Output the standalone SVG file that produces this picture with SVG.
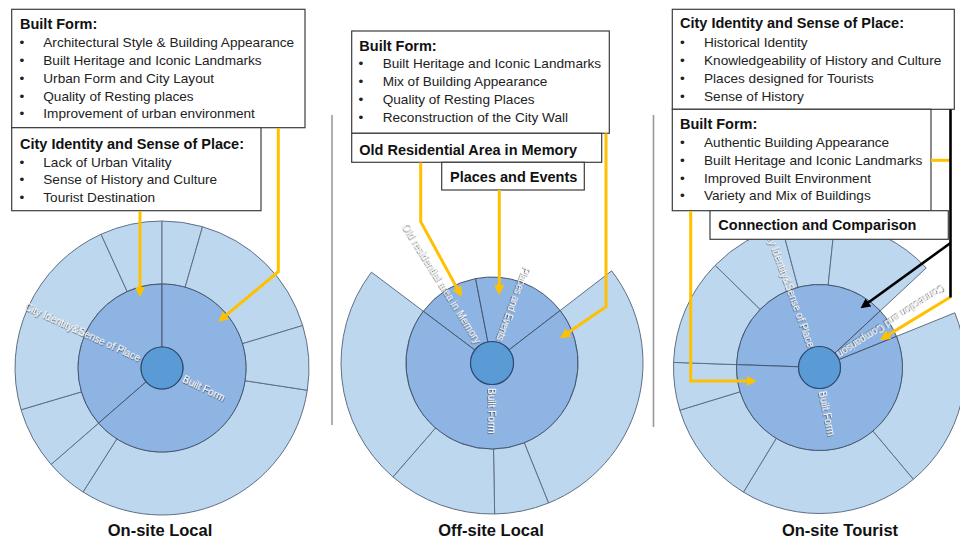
<svg xmlns="http://www.w3.org/2000/svg" width="960" height="542" viewBox="0 0 960 542">
<style>
.outer{fill:#BDD7EE;stroke:#5f6f86;stroke-width:1}
.mid{fill:#8EB4E3;stroke:#46576e;stroke-width:1}
.core{fill:#5B9BD5;stroke:#2c4a73;stroke-width:1.2}
.lbl{font-family:"Liberation Sans",Arial,sans-serif;font-size:10px;fill:#ffffff;filter:url(#sh)}
.box{fill:#ffffff;stroke:#3c3c3c;stroke-width:1.2}
.h{font-family:"Liberation Sans",Arial,sans-serif;font-size:14.5px;font-weight:bold;fill:#111}
.t{font-family:"Liberation Sans",Arial,sans-serif;font-size:13.6px;fill:#222}
.cap{font-family:"Liberation Sans",Arial,sans-serif;font-size:16.5px;font-weight:bold;fill:#111;text-anchor:middle}
.y{fill:none;stroke:#FFC000;stroke-width:3}
.k{fill:none;stroke:#000;stroke-width:2.6}
.sep{stroke:#9a9a9a;stroke-width:1.6}
</style>
<defs>
<filter id="sh" x="-10%" y="-50%" width="120%" height="200%">
<feDropShadow dx="0.7" dy="0.8" stdDeviation="0.45" flood-color="#3a3a3a" flood-opacity="0.9"/>
</filter>
<marker id="ay" viewBox="0 0 10 10" refX="7" refY="5" markerWidth="3.4" markerHeight="3.4" orient="auto" markerUnits="strokeWidth">
<path d="M0,0 L10,5 L0,10 Z" fill="#FFC000"/>
</marker>
<marker id="ak" viewBox="0 0 10 10" refX="7" refY="5" markerWidth="3.8" markerHeight="3.8" orient="auto" markerUnits="strokeWidth">
<path d="M0,0 L10,5 L0,10 Z" fill="#000"/>
</marker>
</defs>
<rect width="960" height="542" fill="#ffffff"/>

<g id="separators">
<line class="sep" x1="332" y1="115" x2="332" y2="425"/>
<line class="sep" x1="653.5" y1="115" x2="653.5" y2="427"/>
</g>

<!-- Chart 1: On-site Local -->
<g id="chart-onsite-local">
<path class="outer" d="M307.31,390.24 A147 147 0 0 1 83.02,491.98 L116.87,438.85 A84 84 0 0 0 245.03,380.71 Z"/>
<path class="outer" d="M83.02,491.98 A147 147 0 0 1 51.06,464.45 L98.61,423.11 A84 84 0 0 0 116.87,438.85 Z"/>
<path class="outer" d="M51.06,464.45 A147 147 0 0 1 21.06,409.75 L81.46,391.86 A84 84 0 0 0 98.61,423.11 Z"/>
<path class="outer" d="M21.06,409.75 A147 147 0 0 1 101.04,234.23 L127.17,291.56 A84 84 0 0 0 81.46,391.86 Z"/>
<path class="outer" d="M101.04,234.23 A147 147 0 0 1 162,221 L162,284 A84 84 0 0 0 127.17,291.56 Z"/>
<path class="outer" d="M162,221 A147 147 0 0 1 202.51,226.69 L185.15,287.25 A84 84 0 0 0 162,284 Z"/>
<path class="outer" d="M202.51,226.69 A147 147 0 0 1 302.72,325.52 L242.41,343.72 A84 84 0 0 0 185.15,287.25 Z"/>
<path class="outer" d="M302.72,325.52 A147 147 0 0 1 307.31,390.24 L245.03,380.71 A84 84 0 0 0 242.41,343.72 Z"/>
<path class="mid" d="M98.61,423.11 A84 84 0 0 1 162,284 L162,347 A21 21 0 0 0 146.15,381.78 Z"/>
<path class="mid" d="M162,284 A84 84 0 1 1 98.61,423.11 L146.15,381.78 A21 21 0 1 0 162,347 Z"/>
<circle class="core" cx="162" cy="368" r="21"/>
<text class="lbl" text-anchor="end" transform="translate(140.2,358.2) rotate(24.6)" dy="0.35em">City Identity&amp;Sense of Place</text>
<text class="lbl" transform="translate(183.5,378) rotate(26)" dy="0.35em">Built Form</text>
</g>

<!-- Chart 2: Off-site Local -->
<g id="chart-offsite-local">
<path class="outer" d="M611.64,270.87 A151 151 0 0 1 548.56,503.01 L524.22,442.74 A86 86 0 0 0 560.14,310.53 Z"/>
<path class="outer" d="M548.56,503.01 A151 151 0 0 1 494.64,513.97 L493.5,448.98 A86 86 0 0 0 524.22,442.74 Z"/>
<path class="outer" d="M494.64,513.97 A151 151 0 0 1 392.93,476.96 L435.58,427.9 A86 86 0 0 0 493.5,448.98 Z"/>
<path class="outer" d="M392.93,476.96 A151 151 0 0 1 371.41,272.13 L423.32,311.25 A86 86 0 0 0 435.58,427.9 Z"/>
<path class="mid" d="M423.32,311.25 A86 86 0 0 1 475.59,278.58 L487.9,341.9 A21.5 21.5 0 0 0 474.83,350.06 Z"/>
<path class="mid" d="M475.59,278.58 A86 86 0 0 1 560.14,310.53 L509.03,349.88 A21.5 21.5 0 0 0 487.9,341.9 Z"/>
<path class="mid" d="M560.14,310.53 A86 86 0 1 1 423.32,311.25 L474.83,350.06 A21.5 21.5 0 1 0 509.03,349.88 Z"/>
<circle class="core" cx="492" cy="363" r="21.5"/>
<text class="lbl" text-anchor="end" textLength="139" transform="translate(478.8,342.2) rotate(58)" dy="0.35em">Old residential area in Memory</text>
<text class="lbl" text-anchor="end" textLength="78" transform="translate(500,340.6) rotate(110.7)" dy="0.35em">Places and Events</text>
<text class="lbl" transform="translate(492.2,388) rotate(89.7)" dy="0.35em">Built Form</text>
</g>

<!-- Chart 3: On-site Tourist -->
<g id="chart-onsite-tourist">
<path class="outer" d="M954.87,312.81 A146 146 0 0 1 913.35,479.34 L872.85,431.08 A83 83 0 0 0 896.46,336.41 Z"/>
<path class="outer" d="M913.35,479.34 A146 146 0 0 1 743.43,492.13 L776.26,438.35 A83 83 0 0 0 872.85,431.08 Z"/>
<path class="outer" d="M743.43,492.13 A146 146 0 0 1 679.88,410.19 L740.13,391.77 A83 83 0 0 0 776.26,438.35 Z"/>
<path class="outer" d="M679.88,410.19 A146 146 0 0 1 673.59,362.4 L736.55,364.6 A83 83 0 0 0 740.13,391.77 Z"/>
<path class="outer" d="M673.59,362.4 A146 146 0 0 1 715.18,265.34 L760.2,309.42 A83 83 0 0 0 736.55,364.6 Z"/>
<path class="outer" d="M715.18,265.34 A146 146 0 0 1 781.72,226.48 L798.02,287.33 A83 83 0 0 0 760.2,309.42 Z"/>
<path class="outer" d="M781.72,226.48 A146 146 0 0 1 834.76,222.3 L828.17,284.96 A83 83 0 0 0 798.02,287.33 Z"/>
<path class="outer" d="M834.76,222.3 A146 146 0 0 1 926.28,267.93 L880.21,310.89 A83 83 0 0 0 828.17,284.96 Z"/>
<path class="mid" d="M736.55,364.6 A83 83 0 0 1 880.21,310.89 L834.86,353.18 A21 21 0 0 0 798.51,366.77 Z"/>
<path class="mid" d="M880.21,310.89 A83 83 0 0 1 896.46,336.41 L838.97,359.63 A21 21 0 0 0 834.86,353.18 Z"/>
<path class="mid" d="M896.46,336.41 A83 83 0 1 1 736.55,364.6 L798.51,366.77 A21 21 0 1 0 838.97,359.63 Z"/>
<circle class="core" cx="819.5" cy="367.5" r="21"/>
<text class="lbl" text-anchor="end" transform="translate(811.8,346.9) rotate(69.8)" dy="0.35em">City Identity&amp;Sense of Place</text>
<text class="lbl" text-anchor="end" transform="translate(838.1,355.7) rotate(147.5)" dy="0.35em">Connection and Comparison</text>
<text class="lbl" transform="translate(822.5,391) rotate(78)" dy="0.35em">Built Form</text>
</g>

<!-- Boxes: On-site Local -->
<g id="box-onsite-local-builtform">
<rect class="box" x="11.7" y="9.3" width="293.3" height="118.4"/>
<text class="h" x="20" y="29.3">Built Form:</text>
<text class="t" x="19.5" y="47.3">•</text><text class="t" x="43.3" y="47.3">Architectural Style &amp; Building Appearance</text>
<text class="t" x="19.5" y="65">•</text><text class="t" x="43.3" y="65">Built Heritage and Iconic Landmarks</text>
<text class="t" x="19.5" y="82.8">•</text><text class="t" x="43.3" y="82.8">Urban Form and City Layout</text>
<text class="t" x="19.5" y="100.6">•</text><text class="t" x="43.3" y="100.6">Quality of Resting places</text>
<text class="t" x="19.5" y="118.4">•</text><text class="t" x="43.3" y="118.4">Improvement of urban environment</text>
</g>
<g id="box-onsite-local-identity">
<rect class="box" x="11.7" y="127.7" width="249.3" height="83"/>
<text class="h" x="20" y="149">City Identity and Sense of Place:</text>
<text class="t" x="19.5" y="166.7">•</text><text class="t" x="43.3" y="166.7">Lack of Urban Vitality</text>
<text class="t" x="19.5" y="184.3">•</text><text class="t" x="43.3" y="184.3">Sense of History and Culture</text>
<text class="t" x="19.5" y="202">•</text><text class="t" x="43.3" y="202">Tourist Destination</text>
</g>

<!-- Boxes: Off-site Local -->
<g id="box-offsite-local-builtform">
<rect class="box" x="351.7" y="31" width="257.6" height="102.3"/>
<text class="h" x="359.3" y="50.7">Built Form:</text>
<text class="t" x="358.5" y="68.3">•</text><text class="t" x="382.7" y="68.3">Built Heritage and Iconic Landmarks</text>
<text class="t" x="358.5" y="86">•</text><text class="t" x="382.7" y="86">Mix of Building Appearance</text>
<text class="t" x="358.5" y="103.7">•</text><text class="t" x="382.7" y="103.7">Quality of Resting Places</text>
<text class="t" x="358.5" y="121.7">•</text><text class="t" x="382.7" y="121.7">Reconstruction of the City Wall</text>
</g>
<g id="box-offsite-local-residential">
<rect class="box" x="351.7" y="133.3" width="250" height="29"/>
<text class="h" x="359.3" y="155">Old Residential Area in Memory</text>
</g>
<g id="box-offsite-local-places">
<rect class="box" x="441.7" y="162.3" width="142.6" height="27.7"/>
<text class="h" x="450" y="182">Places and Events</text>
</g>

<!-- Boxes: On-site Tourist -->
<g id="box-onsite-tourist-identity">
<rect class="box" x="672.3" y="9.3" width="282" height="100"/>
<text class="h" x="680" y="28.3">City Identity and Sense of Place:</text>
<text class="t" x="680" y="46.7">•</text><text class="t" x="704" y="46.7">Historical Identity</text>
<text class="t" x="680" y="65">•</text><text class="t" x="704" y="65">Knowledgeability of History and Culture</text>
<text class="t" x="680" y="83.3">•</text><text class="t" x="704" y="83.3">Places designed for Tourists</text>
<text class="t" x="680" y="100.5">•</text><text class="t" x="704" y="100.5">Sense of History</text>
</g>
<g id="box-onsite-tourist-builtform">
<rect class="box" x="672.3" y="109.3" width="258.7" height="101.4"/>
<text class="h" x="680" y="129.3">Built Form:</text>
<text class="t" x="680" y="146.7">•</text><text class="t" x="704" y="146.7">Authentic Building Appearance</text>
<text class="t" x="680" y="165">•</text><text class="t" x="704" y="165">Built Heritage and Iconic Landmarks</text>
<text class="t" x="680" y="182.7">•</text><text class="t" x="704" y="182.7">Improved Built Environment</text>
<text class="t" x="680" y="200">•</text><text class="t" x="704" y="200">Variety and Mix of Buildings</text>
</g>
<g id="box-onsite-tourist-connection">
<rect class="box" x="710" y="210.7" width="238.3" height="28.6"/>
<text class="h" x="718.3" y="230">Connection and Comparison</text>
</g>

<!-- Connectors -->
<g id="connectors">
<path class="y" d="M140,211 V294" marker-end="url(#ay)"/>
<path class="y" d="M278.3,128 V271.7 L220.6,319.8" marker-end="url(#ay)"/>
<path class="y" d="M420.7,162.5 V221.7 L460.3,294.1" marker-end="url(#ay)"/>
<path class="y" d="M499.3,190 V292" marker-end="url(#ay)"/>
<path class="y" d="M606,133.5 V306.7 L562.5,336.6" marker-end="url(#ay)"/>
<path class="y" d="M690.7,211 V381 H753.7" marker-end="url(#ay)"/>
<path class="y" d="M931,160.3 H950"/>
<path class="y" d="M950.5,297 L882.6,338.4" marker-end="url(#ay)"/>
<path class="k" d="M950.5,109.5 V297.5"/>
<path class="k" d="M950.5,243 L862.9,306.5" marker-end="url(#ak)"/>
</g>

<g id="captions">
<text class="cap" x="160" y="536">On-site Local</text>
<text class="cap" x="491" y="536">Off-site Local</text>
<text class="cap" x="840" y="536">On-site Tourist</text>
</g>
</svg>
